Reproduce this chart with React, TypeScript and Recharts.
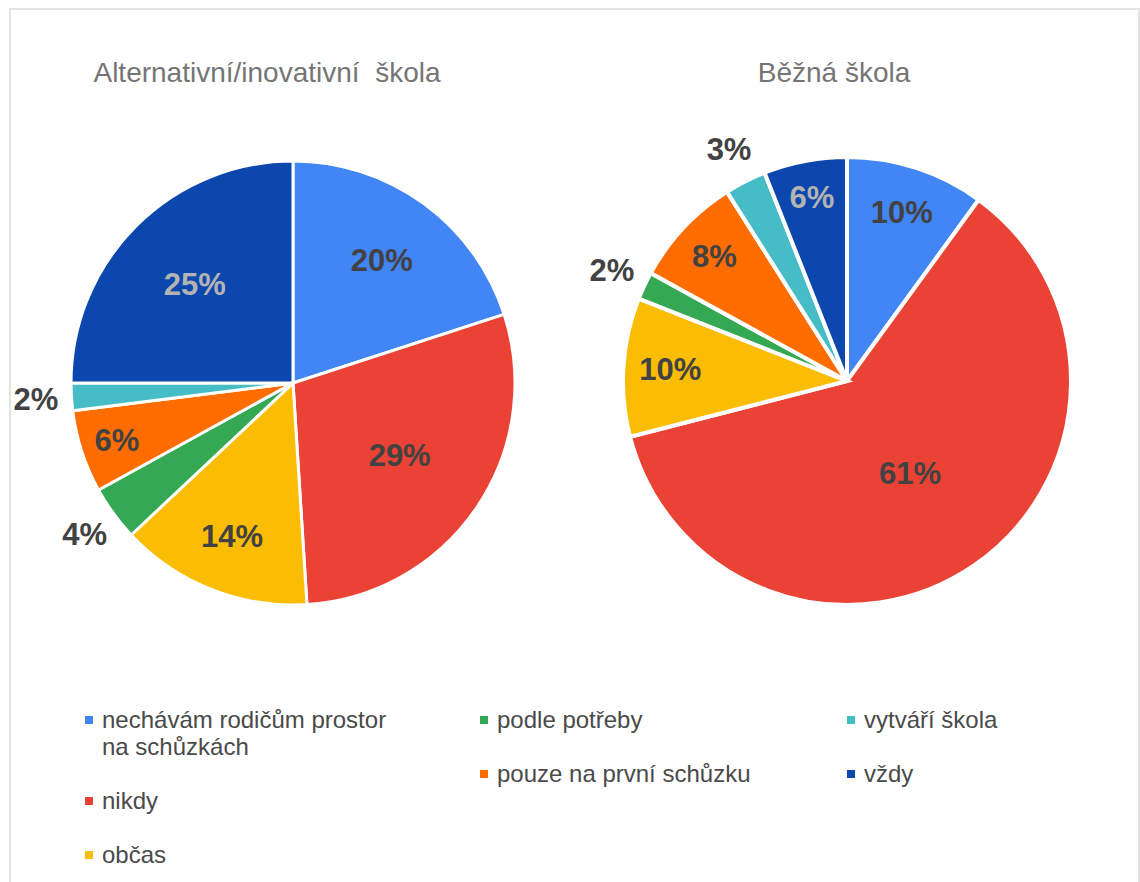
import React from 'react';
import { PieChart, Pie, Cell } from 'recharts';

// kategorie a hodnoty (v %)
const categories = [
  'nechávám rodičům prostor na schůzkách',
  'nikdy',
  'občas',
  'podle potřeby',
  'pouze na první schůzku',
  'vytváří škola',
  'vždy',
];
const alternativeValues = [20, 29, 14, 4, 6, 2, 25];
const regularValues = [10, 61, 10, 2, 8, 3, 6];
const titles = ['Alternativní/inovativní  škola', 'Běžná škola'];

const COLORS = ['#4285f4', '#ea4335', '#fbbc04', '#34a853', '#ff6d01', '#46bdc6', '#0c47ad'];
const DARK = '#0c47ad';
const FONT = '"Liberation Sans", Arial, sans-serif';
const RAD = Math.PI / 180;

const legendColumns = [[0, 1, 2], [3, 4], [5, 6]];
const legendColumnX = [85, 480, 847];

const altData = categories.map((name, i) => ({ name, value: alternativeValues[i] }));
const regData = categories.map((name, i) => ({ name, value: regularValues[i] }));

const renderLabel = (props: any) => {
  const { cx, cy, midAngle, outerRadius, percent, index } = props;
  const pct = percent * 100;
  // malé výseče mají popisek venku
  const r = pct < 5 ? outerRadius * 1.16 : outerRadius * Math.max(0.5, 0.9 - 0.011 * pct);
  const x = cx + r * Math.cos(-midAngle * RAD);
  const y = cy + r * Math.sin(-midAngle * RAD);
  const color = pct >= 5 && COLORS[index] === DARK ? '#b3b3b3' : '#424242';
  return (
    <text
      x={x}
      y={y}
      textAnchor="middle"
      dominantBaseline="central"
      fontSize={31}
      fontWeight={700}
      fontFamily={FONT}
      fill={color}
    >
      {`${Math.round(pct)}%`}
    </text>
  );
};

const App: React.FC = () => {
  return (
    <div
      style={{
        position: 'absolute',
        left: 0,
        top: 0,
        width: 1140,
        height: 882,
        overflow: 'hidden',
        background: '#fff',
        fontFamily: FONT,
      }}
    >
      {/* rámeček */}
      <div
        style={{
          position: 'absolute',
          left: 9,
          top: 8,
          width: 1127,
          height: 900,
          borderTop: '2px solid #e4e4e4',
          borderLeft: '2px solid #e4e4e4',
          borderRight: '2px solid #e4e4e4',
        }}
      />

      {/* nadpisy */}
      {titles.map((t, i) => (
        <div
          key={t}
          style={{
            position: 'absolute',
            left: i === 0 ? 67 : 634,
            top: 57,
            width: 400,
            textAlign: 'center',
            fontSize: 28,
            lineHeight: '32px',
            color: '#757575',
            whiteSpace: 'pre',
          }}
        >
          {t}
        </div>
      ))}

      <div style={{ position: 'absolute', left: 0, top: 0 }}>
        <PieChart width={1140} height={882} margin={{ top: 0, right: 0, bottom: 0, left: 0 }}>
          <Pie
            data={altData}
            dataKey="value"
            nameKey="name"
            cx={293}
            cy={383}
            outerRadius={222}
            startAngle={90}
            endAngle={-270}
            stroke="#ffffff"
            strokeWidth={3}
            label={renderLabel}
            labelLine={false}
            isAnimationActive={false}
          >
            {altData.map((d, i) => (
              <Cell key={d.name} fill={COLORS[i]} />
            ))}
          </Pie>
          <Pie
            data={regData}
            dataKey="value"
            nameKey="name"
            cx={847}
            cy={381}
            outerRadius={224}
            startAngle={90}
            endAngle={-270}
            stroke="#ffffff"
            strokeWidth={4}
            label={renderLabel}
            labelLine={false}
            isAnimationActive={false}
          >
            {regData.map((d, i) => (
              <Cell key={d.name} fill={COLORS[i]} />
            ))}
          </Pie>
        </PieChart>
      </div>

      {/* legenda */}
      {legendColumns.map((col, ci) => (
        <div
          key={ci}
          style={{ position: 'absolute', left: legendColumnX[ci], top: 706 }}
        >
          {col.map((idx) => (
            <div
              key={categories[idx]}
              style={{ display: 'flex', alignItems: 'flex-start', marginBottom: 27 }}
            >
              <div
                style={{
                  width: 8,
                  height: 8,
                  marginTop: 10,
                  marginRight: 9,
                  background: COLORS[idx],
                  flexShrink: 0,
                }}
              />
              <div
                style={{
                  fontSize: 24,
                  lineHeight: '27px',
                  color: '#4a4a4a',
                  width: ci === 0 ? 300 : 330,
                }}
              >
                {categories[idx]}
              </div>
            </div>
          ))}
        </div>
      ))}
    </div>
  );
};

export default App;
